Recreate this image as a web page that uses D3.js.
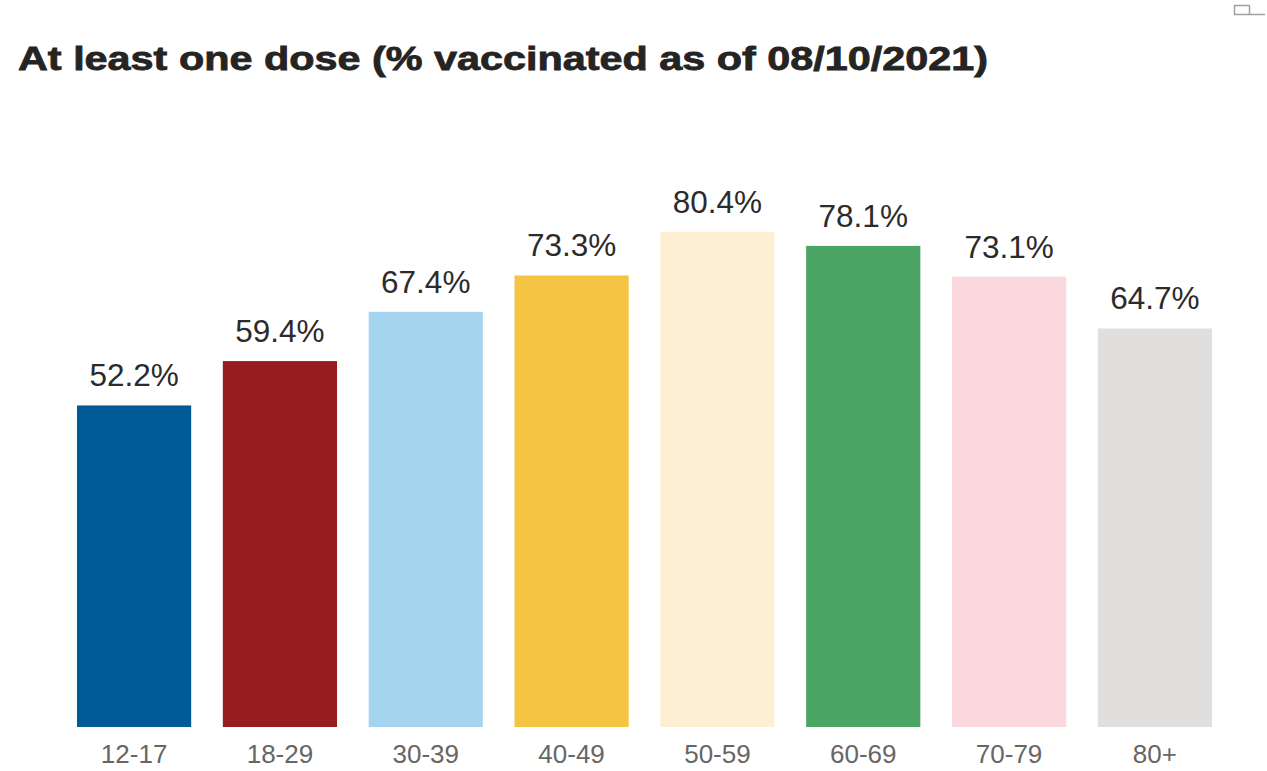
<!DOCTYPE html>
<html>
<head>
<meta charset="utf-8">
<script src="https://cdn.jsdelivr.net/npm/d3@7"></script>
<style>
  body { margin: 0; background: #fff; }
</style>
</head>
<body>
<script>
// data
var ageGroups = ["12-17", "18-29", "30-39", "40-49", "50-59", "60-69", "70-79", "80+"];
var pctVaccinated = [52.2, 59.4, 67.4, 73.3, 80.4, 78.1, 73.1, 64.7];
var barColors = ["#005a96", "#961c1f", "#a5d5ee", "#f5c443", "#fdefd4", "#4aa463", "#fbd7de", "#e0dfde"];

var w = 1267;
var h = 771;
var margin = { left: 77, right: 55, top: 111, bottom: 44 };

var data = ageGroups.map(function(g, i) {
  return { group: g, value: pctVaccinated[i], color: barColors[i] };
});

var svg = d3.select("body")
  .append("svg")
  .attr("width", w)
  .attr("height", h);

// title
svg.append("text")
  .attr("x", 18)
  .attr("y", 70)
  .attr("textLength", 970)
  .attr("lengthAdjust", "spacingAndGlyphs")
  .style("font-family", "'Liberation Sans', Arial, sans-serif")
  .style("font-weight", "bold")
  .style("font-size", "33px")
  .attr("fill", "#252423")
  .attr("stroke", "#252423")
  .attr("stroke-width", 0.8)
  .text("At least one dose (% vaccinated as of 08/10/2021)");

// little focus-mode icon top right
var icon = svg.append("g").attr("stroke", "#a0a0a0").attr("fill", "none").attr("stroke-width", 1.5);
icon.append("rect").attr("x", 1234.5).attr("y", 5.5).attr("width", 15).attr("height", 9);
icon.append("line").attr("x1", 1250).attr("y1", 14.5).attr("x2", 1265).attr("y2", 14.5);

// scales
var xScale = d3.scaleBand()
  .domain(ageGroups)
  .range([margin.left, w - margin.right])
  .paddingInner(0.217)
  .paddingOuter(0);

var yScale = d3.scaleLinear()
  .domain([0, 100])
  .range([h - margin.bottom, h - margin.bottom - 616]);

// bars
svg.selectAll("rect.bar")
  .data(data)
  .enter()
  .append("rect")
  .attr("class", "bar")
  .attr("x", function(d) { return xScale(d.group); })
  .attr("y", function(d) { return yScale(d.value); })
  .attr("width", xScale.bandwidth())
  .attr("height", function(d) { return yScale(0) - yScale(d.value); })
  .attr("fill", function(d) { return d.color; });

// value labels
svg.selectAll("text.value")
  .data(data)
  .enter()
  .append("text")
  .attr("class", "value")
  .attr("x", function(d) { return xScale(d.group) + xScale.bandwidth() / 2; })
  .attr("y", function(d) { return yScale(d.value) - 19; })
  .attr("text-anchor", "middle")
  .style("font-family", "'Liberation Sans', Arial, sans-serif")
  .style("font-size", "31.5px")
  .attr("fill", "#2b2b2b")
  .text(function(d) { return d.value.toFixed(1) + "%"; });

// x axis (labels only)
var xAxis = d3.axisBottom(xScale).tickSize(0).tickPadding(0);
var gx = svg.append("g")
  .attr("class", "x axis")
  .attr("transform", "translate(0," + yScale(0) + ")")
  .call(xAxis);
gx.select(".domain").remove();
gx.selectAll("text")
  .attr("dy", null)
  .attr("y", 36)
  .style("font-family", "'Liberation Sans', Arial, sans-serif")
  .style("font-size", "26px")
  .attr("fill", "#666666");
</script>
</body>
</html>
